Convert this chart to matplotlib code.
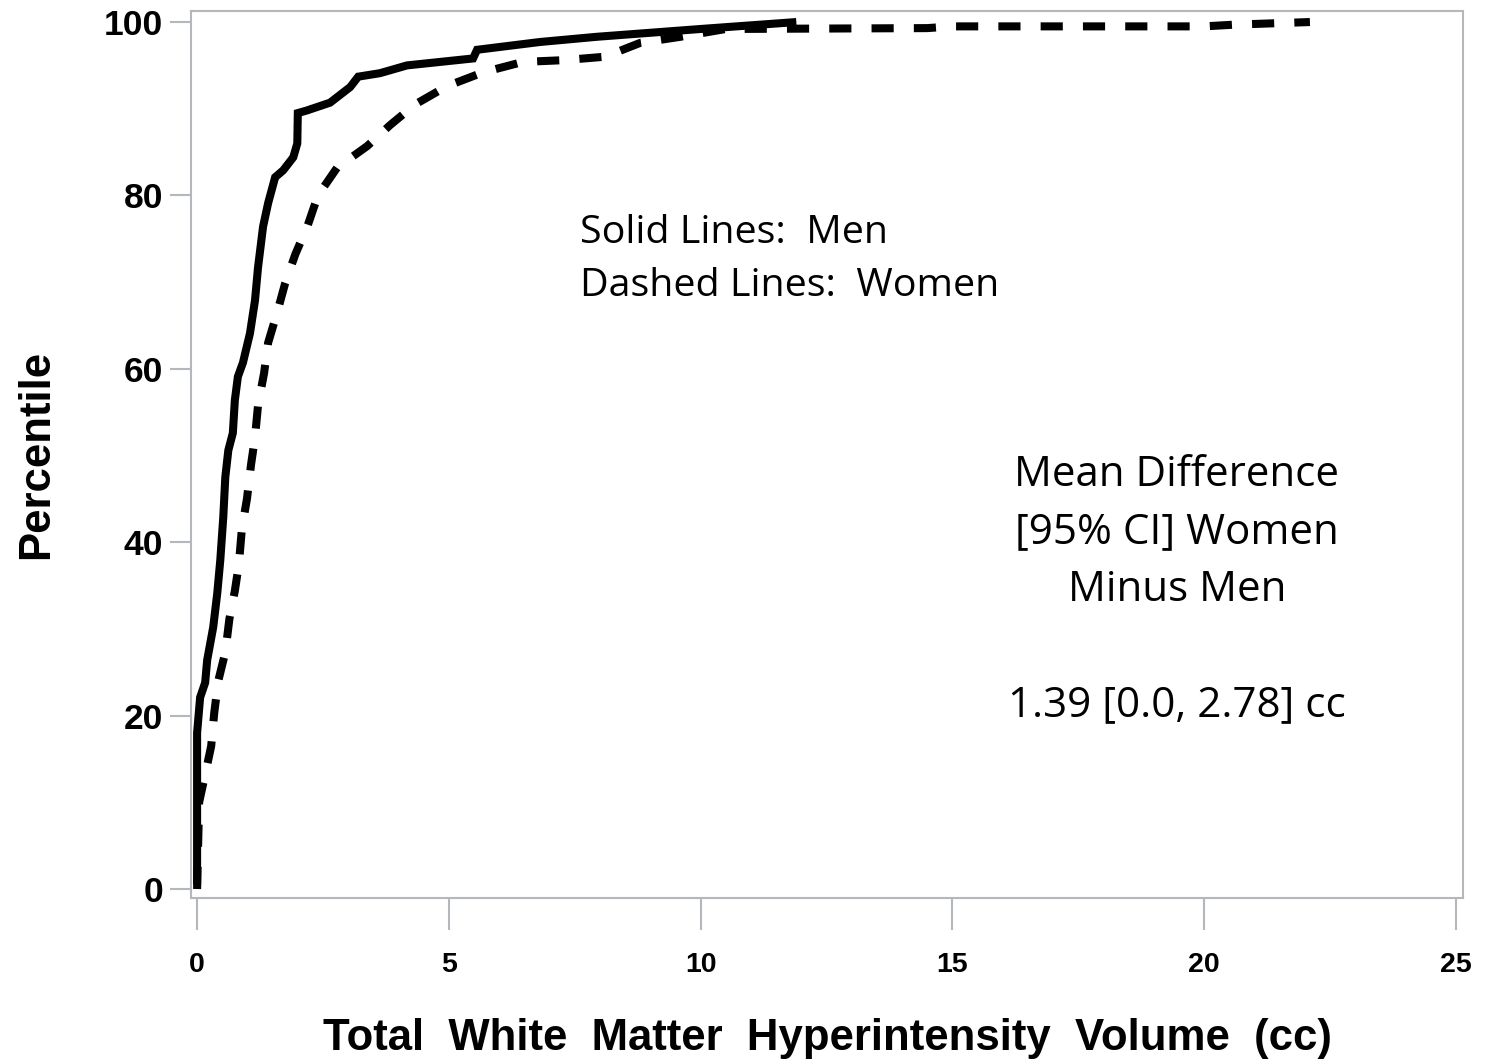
import matplotlib
matplotlib.use("Agg")
import matplotlib.pyplot as plt

# cumulative distribution of WMH volume
men_x = [0, 0, 0.06, 0.16, 0.2, 0.32, 0.4, 0.46, 0.52, 0.56, 0.62, 0.71, 0.75, 0.81,
         0.91, 1.05, 1.15, 1.21, 1.31, 1.41, 1.55, 1.71, 1.91, 1.99, 2.0, 2.18, 2.64,
         3.04, 3.2, 3.63, 4.17, 5.48, 5.56, 6.81, 7.94, 10.0, 11.9]
men_y = [0.5, 18.0, 22.1, 23.8, 26.4, 30.2, 34.1, 37.9, 42.9, 47.5, 50.6, 52.6, 56.4,
         59.1, 60.7, 64.1, 67.9, 71.7, 76.4, 79.1, 82.1, 82.9, 84.4, 86.0, 89.5, 89.8,
         90.7, 92.5, 93.7, 94.1, 95.0, 95.8, 96.8, 97.7, 98.3, 99.2, 100]

women_x = [0, 0.04, 0.16, 0.28, 0.34, 0.42, 0.56, 0.64, 0.75, 0.83, 0.89, 0.99, 1.07,
           1.15, 1.21, 1.33, 1.41, 1.59, 1.75, 1.95, 2.2, 2.4, 2.78, 3.38, 3.83, 4.33,
           4.96, 5.68, 6.47, 7.27, 8.1, 8.8, 9.6, 10.5, 14.5, 15.0, 20.0, 20.6, 22.1]
women_y = [0, 10, 13.2, 16.5, 20.3, 24, 27.3, 31.1, 34.4, 37.5, 41.6, 45, 48.9, 52.1,
           55.8, 59.5, 63, 66.5, 69.9, 73.2, 76.6, 80, 83.2, 85.7, 88.1, 90.5, 92.6,
           94.2, 95.4, 95.6, 96, 97.6, 98.3, 99.2, 99.3, 99.5, 99.5, 99.7, 100]

x_ticks = [0, 5, 10, 15, 20, 25]
y_ticks = [0, 20, 40, 60, 80, 100]

legend_lines = ["Solid Lines:  Men", "Dashed Lines:  Women"]
diff_lines = ["Mean Difference", "[95% CI] Women", "Minus Men", "", "1.39 [0.0, 2.78] cc"]

grey = "#b4b8bc"

fig = plt.figure(figsize=(14.88, 10.61), dpi=100)
ax = fig.add_axes([0.1284, 0.1536, 0.9832 - 0.1284, 0.9896 - 0.1536])

ax.plot(men_x, men_y, color="black", lw=5.8, solid_joinstyle="miter", solid_capstyle="butt")
ax.plot(women_x, women_y, color="black", lw=5.8, dashes=(2.75, 2.5), dash_capstyle="butt")

ax.set_xlim(-0.12, 25.14)
ax.set_ylim(-1.04, 101.27)

for s in ax.spines.values():
    s.set_color(grey)
    s.set_linewidth(1.5)

ax.set_xticks(x_ticks)
ax.set_yticks(y_ticks)
ax.tick_params(axis="x", length=23, width=1.5, color=grey, pad=16)
ax.tick_params(axis="y", length=15, width=1.5, color=grey, pad=5)
for lab in ax.get_xticklabels():
    lab.set_fontfamily("Liberation Sans")
    lab.set_fontsize(20.5)
    lab.set_fontweight("bold")
for lab in ax.get_yticklabels():
    lab.set_fontfamily("Liberation Sans")
    lab.set_fontsize(25.5)
    lab.set_fontweight("bold")

ax.set_xlabel("Total  White  Matter  Hyperintensity  Volume  (cc)", fontsize=31.5,
              fontweight="bold", family="Liberation Sans", labelpad=29)
ax.set_ylabel("Percentile", fontsize=31.5, fontweight="bold", family="Liberation Sans",
              labelpad=34)

# annotation text
ax.text(580 / 1488, 1 - 259.5 / 1061, "\n".join(legend_lines), transform=fig.transFigure,
        ha="left", va="center", fontsize=28.4, family="Open Sans", linespacing=1.54)
ax.text(1177 / 1488, 1 - 590 / 1061, "\n".join(diff_lines), transform=fig.transFigure,
        ha="center", va="center", fontsize=30.3, family="Open Sans", linespacing=1.48)

fig.savefig("out.png", dpi=100)
